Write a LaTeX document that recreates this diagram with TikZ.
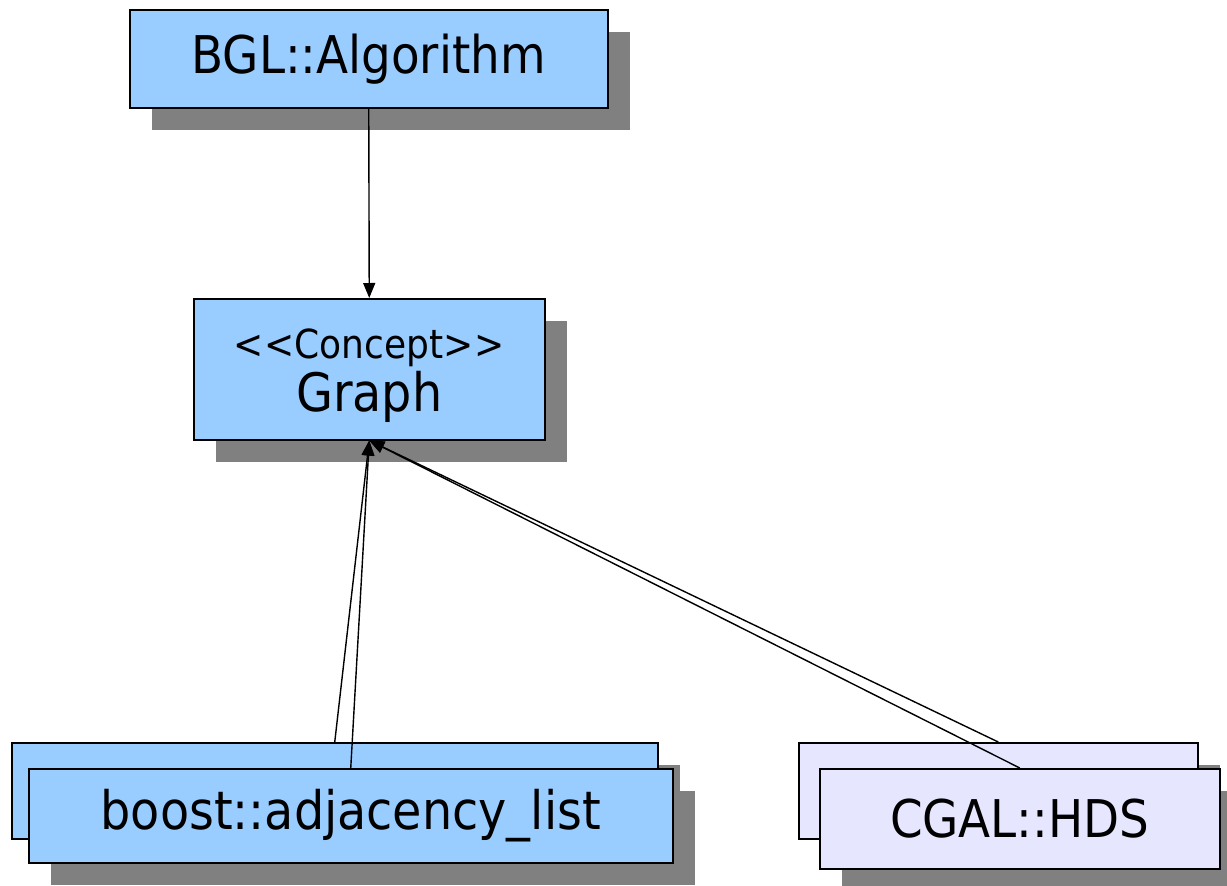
\documentclass[tikz,border=0pt]{standalone}
\usepackage{fontspec}
\setmainfont{DejaVu Sans Condensed}
\usetikzlibrary{arrows.meta,shadows}
\definecolor{boxblue}{RGB}{153,204,255}
\definecolor{boxlav}{RGB}{230,230,255}
\definecolor{shadowgray}{RGB}{128,128,128}
\begin{document}
\begin{tikzpicture}[x=1pt,y=1pt,
  box/.style={draw=black, line width=1.5pt, fill=boxblue, inner sep=0pt, anchor=north west, align=center,
    drop shadow={shadow xshift=22pt, shadow yshift=-22pt, fill=shadowgray, opacity=1}},
  lav/.style={box, fill=boxlav},
  arr/.style={draw=black, line width=1.4pt, -{Triangle[length=15pt,width=12pt]}}
]
\useasboundingbox (0,0) rectangle (1227,-886);
\node[box, minimum width=478pt, minimum height=98pt, font=\fontsize{52}{60}\selectfont] (alg) at (129,-9) {BGL::Algorithm};
\node[box, minimum width=351pt, minimum height=141pt] (graph) at (193,-298)
  {\raisebox{0pt}[0pt][0pt]{}{\fontsize{40}{42}\selectfont <\kern1pt<Concept>\kern1pt>}\\[4pt]{\fontsize{53}{54}\selectfont Graph}\\[-14pt]\mbox{}};
\node[box, minimum width=646pt, minimum height=96pt] (bb) at (11,-742) {};
\node[box, minimum width=644pt, minimum height=94pt, font=\fontsize{53}{60}\selectfont] (bf) at (28,-768) {boost::adjacency\_list};
\node[lav, minimum width=399pt, minimum height=96pt] (cb) at (798,-742) {};
\node[lav, minimum width=400pt, minimum height=100pt, font=\fontsize{52}{60}\selectfont] (cf) at (819,-768) {CGAL::HDS};
\draw[arr] (alg.south) -- (graph.north);
\draw[arr] (bb.north) -- (graph.south);
\draw[arr] (bf.north) -- (graph.south);
\draw[arr] (cb.north) -- (graph.south);
\draw[arr] (cf.north) -- (graph.south);
\end{tikzpicture}
\end{document}
